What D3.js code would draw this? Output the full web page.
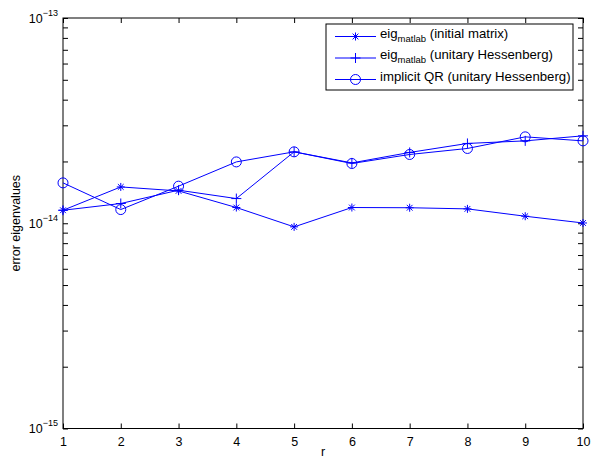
<!DOCTYPE html>
<html><head><meta charset="utf-8">
<script src="https://cdn.jsdelivr.net/npm/d3@7"></script>
<style>body{margin:0;background:#fff}svg text{font-family:"Liberation Sans",Arial,sans-serif;}</style>
</head><body><svg id="c" width="591" height="461"></svg>
<script>
const rValues = [1,2,3,4,5,6,7,8,9,10];
const eigInitial = [1.157e-14,1.503e-14,1.437e-14,1.193e-14,9.6e-15,1.193e-14,1.19e-14,1.175e-14,1.082e-14,1.003e-14];
const eigHessenberg = [1.157e-14,1.248e-14,1.449e-14,1.319e-14,2.228e-14,1.968e-14,2.213e-14,2.448e-14,2.52e-14,2.666e-14];
const implicitQR = [1.573e-14,1.166e-14,1.516e-14,1.99e-14,2.228e-14,1.955e-14,2.163e-14,2.314e-14,2.636e-14,2.52e-14];
const yDecades = [-15,-14,-13];
const xLabel = "r", yLabel = "error eigenvalues";

const svg = d3.select("#c");
const L=63,R=583,T=18,B=428.5;
const x = d3.scaleLinear().domain([1,10]).range([L,R]);
const y = d3.scaleLog().domain([1e-15,1e-13]).range([B,T]);
const col = "#0000ff";

svg.append("rect").attr("x",L).attr("y",T).attr("width",R-L).attr("height",B-T).attr("fill","none").attr("stroke","#000").attr("stroke-width",1);

const xAxB = d3.axisBottom(x).tickValues(rValues).tickSize(-5).tickPadding(9).tickFormat(d3.format("d"));
const xAxT = d3.axisTop(x).tickValues(rValues).tickSize(-5).tickFormat("");
const gb = svg.append("g").attr("transform",`translate(0,${B})`).call(xAxB);
const gt = svg.append("g").attr("transform",`translate(0,${T})`).call(xAxT);
[gb,gt].forEach(a=>{a.select(".domain").remove(); a.selectAll("text").attr("font-size",12.5).attr("font-family","Liberation Sans, Arial, sans-serif");});

const yt = [];
for (let k=-15;k<-13;k++) for (let m=1;m<10;m++) yt.push(m*Math.pow(10,k));
yt.push(1e-13);
const yAxL = d3.axisLeft(y).tickValues(yt).tickSize(-5).tickFormat("");
const yAxR = d3.axisRight(y).tickValues(yt).tickSize(-5).tickFormat("");
const gl = svg.append("g").attr("transform",`translate(${L},0)`).call(yAxL);
const gr = svg.append("g").attr("transform",`translate(${R},0)`).call(yAxR);
[gl,gr].forEach(a=>a.select(".domain").remove());
svg.selectAll(".tick line").attr("stroke","#000");

yDecades.forEach(k=>{
  const t = svg.append("text").attr("x",58).attr("y",y(Math.pow(10,k))+4.5).attr("text-anchor","end").attr("font-size",12.5);
  t.append("tspan").text("10");
  t.append("tspan").attr("dy",-7).attr("font-size",9).text("\u2212"+Math.abs(k));
});

svg.append("text").attr("x",(L+R)/2).attr("y",456).attr("text-anchor","middle").attr("font-size",12.5).text(xLabel);
svg.append("text").attr("transform",`translate(20,${(T+B)/2}) rotate(-90)`).attr("text-anchor","middle").attr("font-size",12.5).text(yLabel);

const line = d3.line().x((d,i)=>x(rValues[i])).y(d=>y(d));
const series = [eigInitial, eigHessenberg, implicitQR];
series.forEach(s=>svg.append("path").attr("d",line(s)).attr("fill","none").attr("stroke",col).attr("stroke-width",1));

function marker(gsel,type,cx,cy){
  if(type==="star"){
    const r=4;
    gsel.append("path").attr("d",`M${cx-r},${cy}H${cx+r}M${cx},${cy-r}V${cy+r}M${cx-r*0.72},${cy-r*0.72}L${cx+r*0.72},${cy+r*0.72}M${cx-r*0.72},${cy+r*0.72}L${cx+r*0.72},${cy-r*0.72}`).attr("stroke",col).attr("stroke-width",1);
  } else if(type==="plus"){
    const r=5;
    gsel.append("path").attr("d",`M${cx-r},${cy}H${cx+r}M${cx},${cy-r}V${cy+r}`).attr("stroke",col).attr("stroke-width",1);
  } else {
    gsel.append("circle").attr("cx",cx).attr("cy",cy).attr("r",5).attr("fill","none").attr("stroke",col).attr("stroke-width",1);
  }
}
const types=["star","plus","circle"];
series.forEach((s,si)=>{
  const mg=svg.append("g");
  s.forEach((d,i)=>marker(mg,types[si],x(rValues[i]),y(d)));
});

const lg = svg.append("g");
lg.append("rect").attr("x",326).attr("y",24).attr("width",247).attr("height",66).attr("fill","#fff").attr("stroke","#000").attr("stroke-width",1);
const names = [["eig","matlab"," (initial matrix)"],["eig","matlab"," (unitary Hessenberg)"],["implicit QR (unitary Hessenberg)",null,""]];
const ly=[36.5,58,79.5];
names.forEach((n,i)=>{
  lg.append("line").attr("x1",335).attr("x2",376).attr("y1",ly[i]).attr("y2",ly[i]).attr("stroke",col).attr("stroke-width",1);
  marker(lg,types[i],355.5,ly[i]);
  const t=lg.append("text").attr("x",380).attr("y",ly[i]+1).attr("font-size",13.2);
  t.append("tspan").text(n[0]);
  if(n[1]){
    t.append("tspan").attr("dy",4).attr("font-size",9.5).text(n[1]);
    t.append("tspan").attr("dy",-4).text(n[2]);
  }
});
</script></body></html>
